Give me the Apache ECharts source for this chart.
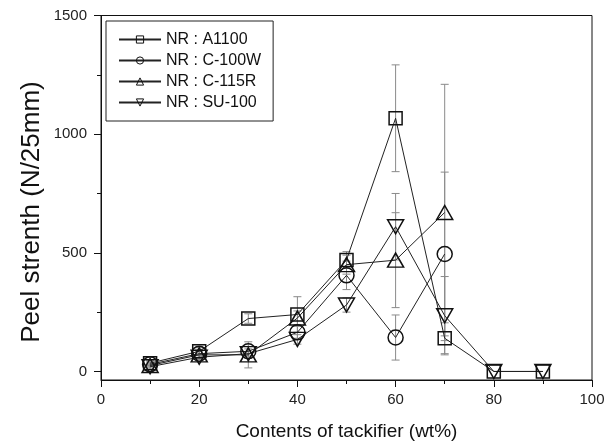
<!DOCTYPE html>
<html>
<head>
<meta charset="utf-8">
<script src="https://cdn.jsdelivr.net/npm/echarts@6/dist/echarts.min.js"></script>
<style>html,body{margin:0;padding:0;background:#fff}#c{width:614px;height:448px}</style>
</head>
<body>
<div id="c"></div>
<script>
const xCats = [10, 20, 30, 40, 50, 60, 70, 80, 90];
const names = ['NR : A1100', 'NR : C-100W', 'NR : C-115R', 'NR : SU-100'];
const A1100 = [35, 85, 223, 240, 470, 1067, 140, 0, 0];
const A1100Err = [10, 15, 20, 75, 35, 225, 65, 0, 0];
const C100W = [30, 75, 85, 165, 405, 143, 495];
const C100WErr = [10, 15, 20, 25, 60, 95, 345];
const C115R = [25, 70, 70, 225, 450, 469, 670];
const C115RErr = [10, 15, 55, 30, 40, 200, 540];
const SU100 = [20, 60, 75, 135, 280, 610, 235, 0, 0];
const SU100Err = [10, 10, 20, 20, 30, 140, 165, 0, 0];
const yLabels = [0, 500, 1000, 1500];
const yMinor = [250, 750, 1250];
const xTitle = 'Contents of tackifier (wt%)';
const yTitle = 'Peel strenth (N/25mm)';

const vals = [A1100, C100W, C115R, SU100];
const errs = [A1100Err, C100WErr, C115RErr, SU100Err];
const symbols = ['rect', 'circle', 'triangle', 'triangle'];
const sizes = [[13, 13], 15, [16, 14], [16, 14]];
const rots = [0, 0, 0, 180];

const chart = echarts.init(document.getElementById('c'), null, {renderer: 'canvas'});
const FONT = 'Liberation Sans, Arial, sans-serif';

const series = [];
vals.forEach((v, i) => {
  series.push({
    name: 'err' + i,
    type: 'custom',
    z: 1,
    silent: true,
    data: v.map((y, k) => [xCats[k], y, errs[i][k]]),
    encode: {x: 0, y: 1},
    renderItem: function (params, api) {
      const x = api.value(0), y = api.value(1), e = api.value(2);
      if (!e) return null;
      const top = api.coord([x, y + e]);
      const bot = api.coord([x, y - e]);
      const hw = 4;
      const st = {stroke: '#8a8a8a', lineWidth: 1};
      return {
        type: 'group',
        children: [
          {type: 'line', shape: {x1: top[0], y1: top[1], x2: bot[0], y2: bot[1]}, style: st},
          {type: 'line', shape: {x1: top[0] - hw, y1: top[1], x2: top[0] + hw, y2: top[1]}, style: st},
          {type: 'line', shape: {x1: bot[0] - hw, y1: bot[1], x2: bot[0] + hw, y2: bot[1]}, style: st}
        ]
      };
    }
  });
});
vals.forEach((v, i) => {
  series.push({
    name: names[i],
    type: 'line',
    z: 3,
    data: v.map((y, k) => [xCats[k], y]),
    symbol: symbols[i],
    symbolSize: sizes[i],
    symbolRotate: rots[i],
    showAllSymbol: true,
    lineStyle: {color: '#222', width: 1},
    itemStyle: {color: 'rgba(255,255,255,0)', borderColor: '#111', borderWidth: 1.5},
    emphasis: {disabled: true},
    animation: false
  });
});

chart.setOption({
  animation: false,
  backgroundColor: '#fff',
  textStyle: {fontFamily: FONT},
  grid: {left: 101, right: 22, top: 15.5, bottom: 68, show: true, borderColor: '#111', borderWidth: 1, backgroundColor: 'transparent'},
  graphic: [{
    type: 'text',
    x: 32, y: 212,
    rotation: Math.PI / 2,
    style: {text: yTitle, font: '26px ' + FONT, fill: '#111', align: 'center', verticalAlign: 'middle'},
    silent: true
  }],
  legend: {
    data: names,
    orient: 'vertical',
    left: 106, top: 21,
    padding: [9, 12, 9, 12],
    itemWidth: 42, itemHeight: 9, itemGap: 2,
    borderColor: '#222', borderWidth: 1,
    itemStyle: {borderWidth: 1},
    textStyle: {fontSize: 16, color: '#111', fontFamily: FONT, lineHeight: 19},
    inactiveColor: '#111'
  },
  xAxis: {
    type: 'value', min: 0, max: 100, interval: 20,
    name: xTitle, nameLocation: 'middle', nameGap: 42,
    nameTextStyle: {fontSize: 19, color: '#111', fontFamily: FONT},
    axisLine: {onZero: false, lineStyle: {color: '#111', width: 1}},
    axisTick: {inside: false, length: 7, lineStyle: {color: '#111'}},
    minorTick: {show: true, splitNumber: 2, length: 4, lineStyle: {color: '#111'}},
    axisLabel: {fontSize: 15, color: '#222', margin: 12, fontFamily: FONT},
    splitLine: {show: false}
  },
  yAxis: [{
    type: 'value', min: -36, max: 1500,
    axisLine: {onZero: false, lineStyle: {color: '#111', width: 1}},
    axisTick: {length: 7, customValues: yLabels, lineStyle: {color: '#111'}},
    axisLabel: {fontSize: 15, color: '#222', margin: 14, customValues: yLabels, fontFamily: FONT,
      formatter: function (v) { return String(v); }},
    splitLine: {show: false}
  }, {
    type: 'value', min: -36, max: 1500, position: 'left',
    axisLine: {show: false},
    axisTick: {length: 4, customValues: yMinor, lineStyle: {color: '#111'}},
    axisLabel: {show: false},
    splitLine: {show: false}
  }],
  series: series
});
</script>
</body>
</html>
